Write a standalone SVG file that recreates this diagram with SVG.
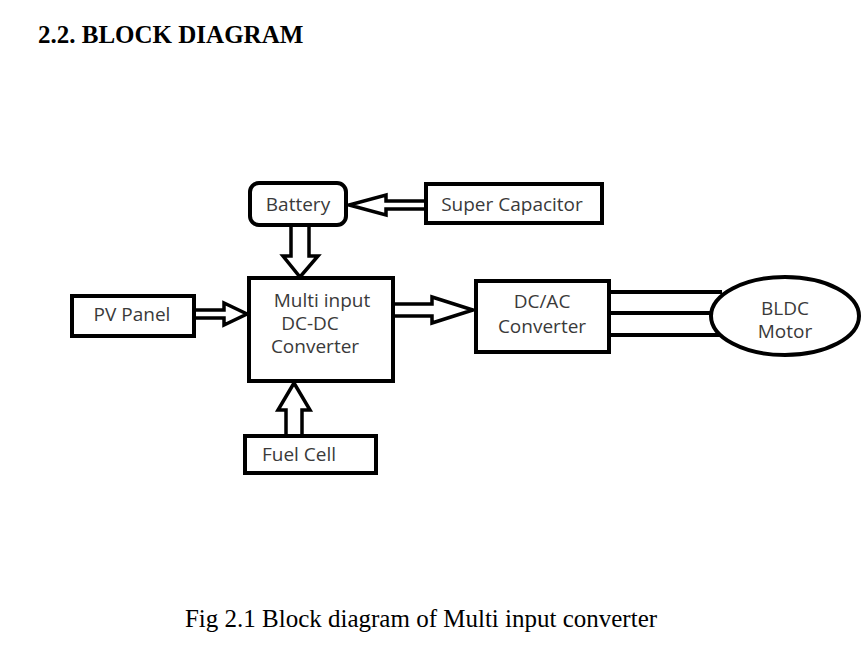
<svg xmlns="http://www.w3.org/2000/svg" width="867" height="652" viewBox="0 0 867 652">
<style>
.box{fill:#fff;stroke:#000;stroke-width:4}
.arr{fill:#fff;stroke:#000;stroke-width:3.5;stroke-linejoin:miter}
.line{stroke:#000;stroke-width:4}
.lbl{font-family:"Open Sans","Liberation Sans",sans-serif;font-size:19px;fill:#3a3a3a;text-anchor:middle}
.serif{font-family:"Liberation Serif",serif;fill:#000}
</style>
<rect width="867" height="652" fill="#fff"/>
<text class="serif" x="38" y="43" font-size="25" font-weight="bold">2.2. BLOCK DIAGRAM</text>
<g id="connectors">
<path class="arr" d="M425,201 H386 V195 L349,205 L386,215 V209 H425"/>
<path class="arr" d="M291,225 V256 H283 L300,277 L318,256 H309 V225"/>
<path class="arr" d="M195,310 H224 V303 L247,314 L224,325 V318 H195"/>
<path class="arr" d="M393,304 H432 V297 L473,310 L432,323 V316 H393"/>
<path class="arr" d="M286,435 V410 H278 L294,383 L310,410 H302 V435"/>
<line class="line" x1="610" y1="292" x2="722" y2="292"/>
<line class="line" x1="610" y1="313" x2="712" y2="313"/>
<line class="line" x1="610" y1="335" x2="722" y2="335"/>
</g>
<g id="battery"><rect class="box" x="250" y="183" width="96" height="42" rx="9"/><text class="lbl" x="298" y="211">Battery</text></g>
<g id="supercap"><rect class="box" x="426" y="184" width="176" height="39"/><text class="lbl" x="512" y="211">Super Capacitor</text></g>
<g id="pv"><rect class="box" x="72" y="296" width="122" height="40"/><text class="lbl" x="132" y="321">PV Panel</text></g>
<g id="mimc"><rect class="box" x="249" y="278" width="144" height="103"/><text class="lbl" x="322" y="307">Multi input</text><text class="lbl" x="310" y="330">DC-DC</text><text class="lbl" x="315" y="353">Converter</text></g>
<g id="dcac"><rect class="box" x="476" y="281" width="133" height="71"/><text class="lbl" x="542" y="308">DC/AC</text><text class="lbl" x="542" y="333">Converter</text></g>
<g id="motor"><ellipse class="box" cx="785" cy="316" rx="74" ry="39"/><text class="lbl" x="785" y="315">BLDC</text><text class="lbl" x="785" y="338">Motor</text></g>
<g id="fuel"><rect class="box" x="245" y="436" width="131" height="37"/><text class="lbl" x="299" y="461">Fuel Cell</text></g>
<text class="serif" x="421" y="627" font-size="25" text-anchor="middle">Fig 2.1 Block diagram of Multi input converter</text>
</svg>
